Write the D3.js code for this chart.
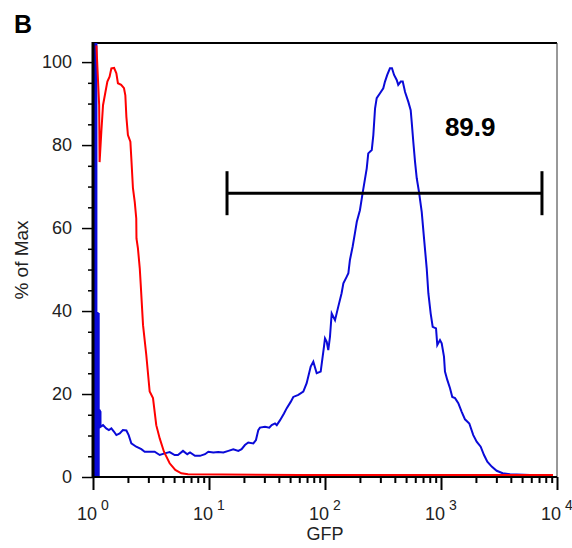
<!DOCTYPE html>
<meta charset="utf-8">
<script src="https://d3js.org/d3.v7.min.js"></script>
<style>
	body{
		margin:0;
		background:#fff;
		font-family:"Liberation Sans", Arial, sans-serif;
	}
	.tickLabel{
		fill:#222;
	}
</style>
<div id="chart"></div>
<script>

// GFP value / % of Max
var redGfp = [1.07,1.13,1.14,1.18,1.22,1.28,1.33,1.39,1.44,1.52,1.59,1.64,1.75,1.85,1.90,1.94,2.00,2.10,2.14,2.21,2.29,2.36,2.37,2.44,2.53,2.58,2.70,2.88,3.08,3.29,3.51,3.76,4.09,4.58,5.12,5.77,6.59,60.9,9240]
var redPct = [104,89.6,75.9,83.2,89.6,92.8,95.3,96.5,98.5,98.6,97.3,94.9,94.5,93.7,92.0,86.8,82.4,80.8,76.8,69.6,66.3,62.3,57.5,55.1,50.3,46.3,36.6,29.4,20.6,19.0,12.5,9.3,6.1,3.3,1.7,0.9,0.65,0.5,0.5]

var blueGfp = [1.025,1.025,1.045,1.045,1.065,1.065,1.07,1.07,1.095,1.095,1.12,1.12,1.12,1.14,1.16,1.16,1.22,1.30,1.37,1.44,1.52,1.59,1.70,1.81,1.94,2.03,2.14,2.36,2.61,2.79,3.08,3.40,3.76,4.15,4.58,5.06,5.40,5.97,6.50,6.86,7.57,8.36,9.24,9.86,10.9,12.0,13.3,14.7,16.2,17.9,19.1,20.4,21.8,24.1,25.4,26.6,27.5,30.4,33.1,34.7,37.1,38.4,41.0,44.3,46.8,50.6,53.3,58.9,65.0,69.5,75.3,79.3,84.8,91.8,98.0,100,103.5,106.7,110.4,114.2,122,130,139,144,154,159,164,173,181,188,200,211,229,236,253,261,270,279,298,318,329,344,363,378,394,415,428,450,468,490,523,548,559,577,597,618,646,682,714,753,778,815,848,906,929,980,1014,1061,1082,1133,1196,1251,1321,1410,1508,1610,1754,1898,2030,2198,2349,2508,2736,3020,3404,3936,5850,9240]
var bluePct = [0,105,105,0,0,105,105,39.5,39.5,0,0,39.5,16.1,16.1,15.7,12.1,12.5,11.7,11.3,11.7,10.9,10.1,10.5,11.3,11.2,10.1,8.1,7.3,6.7,6.1,6.1,6.1,5.3,5.7,6.0,5.3,5.3,6.3,5.5,5.9,5.1,5.1,5.5,6.1,5.9,6.0,5.9,6.3,6.7,6.3,6.7,7.7,8.3,8.1,8.9,11.3,11.9,12.1,11.9,12.5,12.9,12.5,13.7,15.3,16.6,18.1,19.3,19.8,20.6,22.6,26.6,27.8,25.0,25.4,31.4,33.4,32.6,30.6,33.8,39.4,37.8,41.0,44.3,46.7,48.3,49.1,52.3,55.5,58.7,61.5,64.3,68.4,74.4,78.0,78.8,82.4,88.8,91.3,92.5,93.7,95.3,96.9,98.5,98.5,96.9,95.7,94.5,95.3,95.3,92.8,90.4,88.4,85.6,80.8,76.0,72.0,68.7,63.9,57.5,50.3,44.3,39.4,36.2,35.8,31.8,33.0,32.2,29.0,25.4,23.4,21.4,19.3,19.0,17.8,15.7,13.9,12.9,10.1,8.5,7.3,5.3,3.7,2.5,1.5,0.9,0.65,0.5,0.5]

var yTicks = [0,20,40,60,80,100]
var xDecades = [0,1,2,3,4]

// gate
var gateRange = [14.3,7420]
var gateLevel = 68.4
var gateLabel = "89.9"
var gateLabelAt = [1080,82.2]

var w = 572
var h = 548
var mLeft = 93, mRight = 557, mTop = 43, mBottom = 477

var x = d3.scaleLog().domain([1,10000]).range([mLeft,mRight])
var y = d3.scaleLinear().domain([0,104.6]).range([mBottom,mTop])

var svg = d3.select("#chart").append("svg")
	.attr("width",w)
	.attr("height",h)

svg.append("defs").append("clipPath").attr("id","plotClip")
	.append("rect").attr("x",mLeft).attr("y",mTop).attr("width",mRight-mLeft).attr("height",mBottom-mTop)

// frame top + right
svg.append("line").attr("x1",mLeft).attr("x2",mRight).attr("y1",mTop).attr("y2",mTop)
	.attr("stroke","#000").attr("stroke-width",2)
svg.append("line").attr("x1",mRight).attr("x2",mRight).attr("y1",mTop).attr("y2",mBottom)
	.attr("stroke","#333").attr("stroke-width",1)

var line = d3.line()
	.x(function(d){return x(d[0])})
	.y(function(d){return y(d[1])})

var red = d3.zip(redGfp,redPct)
var blue = d3.zip(blueGfp,bluePct)

var curves = svg.append("g").attr("clip-path","url(#plotClip)")
curves.append("path").datum(blue)
	.attr("d",line)
	.attr("fill","none")
	.attr("stroke","#0a0ad8")
	.attr("stroke-width",2)
curves.append("path").datum(red)
	.attr("d",line)
	.attr("fill","none")
	.attr("stroke","#f00")
	.attr("stroke-width",2)

// x axis ticks
var minors = []
for(var d=0; d<4; d++){
	for(var m=2; m<10; m++){
		minors.push(m*Math.pow(10,d))
	}
}
var majors = xDecades.map(function(e){return Math.pow(10,e)})

svg.append("g").attr("transform","translate(0,"+mBottom+")")
	.call(d3.axisBottom(x).tickValues(minors).tickSize(6).tickSizeOuter(0).tickFormat(""))
	.call(function(g){g.select(".domain").remove()})
	.selectAll("line").attr("stroke","#000").attr("stroke-width",2)
svg.append("g").attr("transform","translate(0,"+mBottom+")")
	.call(d3.axisBottom(x).tickValues(majors).tickSize(13).tickSizeOuter(0).tickFormat(""))
	.call(function(g){g.select(".domain").remove()})
	.selectAll("line").attr("stroke","#000").attr("stroke-width",2)

svg.append("line").attr("x1",mLeft).attr("x2",mRight).attr("y1",mBottom).attr("y2",mBottom)
	.attr("stroke","#000").attr("stroke-width",2)

var xl = svg.append("g").selectAll("text").data(xDecades).join("text")
	.attr("class","tickLabel")
	.attr("x",function(d){return x(Math.pow(10,d))})
	.attr("y",520)
	.attr("text-anchor","middle")
	.style("font-size","18px")
xl.append("tspan").text("10")
xl.append("tspan").attr("dx",4).attr("dy",-10).style("font-size","14px").text(function(d){return d})

// y axis ticks
var yMinors = d3.range(0,105,5).filter(function(v){return v%20!=0})
svg.append("g").attr("transform","translate("+mLeft+",0)")
	.call(d3.axisLeft(y).tickValues(yMinors).tickSize(5).tickFormat(""))
	.call(function(g){g.select(".domain").remove()})
	.selectAll("line").attr("stroke","#000").attr("stroke-width",1.5)
var yAx = svg.append("g").attr("transform","translate("+mLeft+",0)")
	.call(d3.axisLeft(y).tickValues(yTicks).tickSize(11).tickPadding(10))
yAx.select(".domain").remove()
yAx.selectAll("line").attr("stroke","#000").attr("stroke-width",1.5)
yAx.selectAll("text").attr("class","tickLabel")
	.attr("fill","#222")
	.style("font-size","18px")
	.style("font-family","Liberation Sans, Arial, sans-serif")

svg.append("line").attr("x1",mLeft).attr("x2",mLeft).attr("y1",mTop-1).attr("y2",mBottom+1)
	.attr("stroke","#000").attr("stroke-width",3)

// axis titles
svg.append("text").attr("class","tickLabel")
	.attr("x",(mLeft+mRight)/2).attr("y",540)
	.attr("text-anchor","middle")
	.style("font-size","18px")
	.text("GFP")
svg.append("text").attr("class","tickLabel")
	.attr("transform","translate(28,"+((mTop+mBottom)/2)+") rotate(-90)")
	.attr("text-anchor","middle")
	.style("font-size","19px")
	.text("% of Max")

// gate bar
var gy = y(gateLevel)
svg.append("line")
	.attr("x1",x(gateRange[0])).attr("x2",x(gateRange[1]))
	.attr("y1",gy).attr("y2",gy)
	.attr("stroke","#000").attr("stroke-width",3)
svg.selectAll(".cap").data(gateRange).join("line")
	.attr("class","cap")
	.attr("x1",function(d){return x(d)}).attr("x2",function(d){return x(d)})
	.attr("y1",gy-22).attr("y2",gy+22)
	.attr("stroke","#000").attr("stroke-width",3)
svg.append("text")
	.attr("x",x(gateLabelAt[0])).attr("y",y(gateLabelAt[1]))
	.style("font-size","26px").style("font-weight","bold")
	.attr("fill","#000")
	.text(gateLabel)

// panel letter
svg.append("text")
	.attr("x",14).attr("y",33)
	.style("font-size","25px").style("font-weight","bold")
	.attr("fill","#000")
	.text("B")

</script>
